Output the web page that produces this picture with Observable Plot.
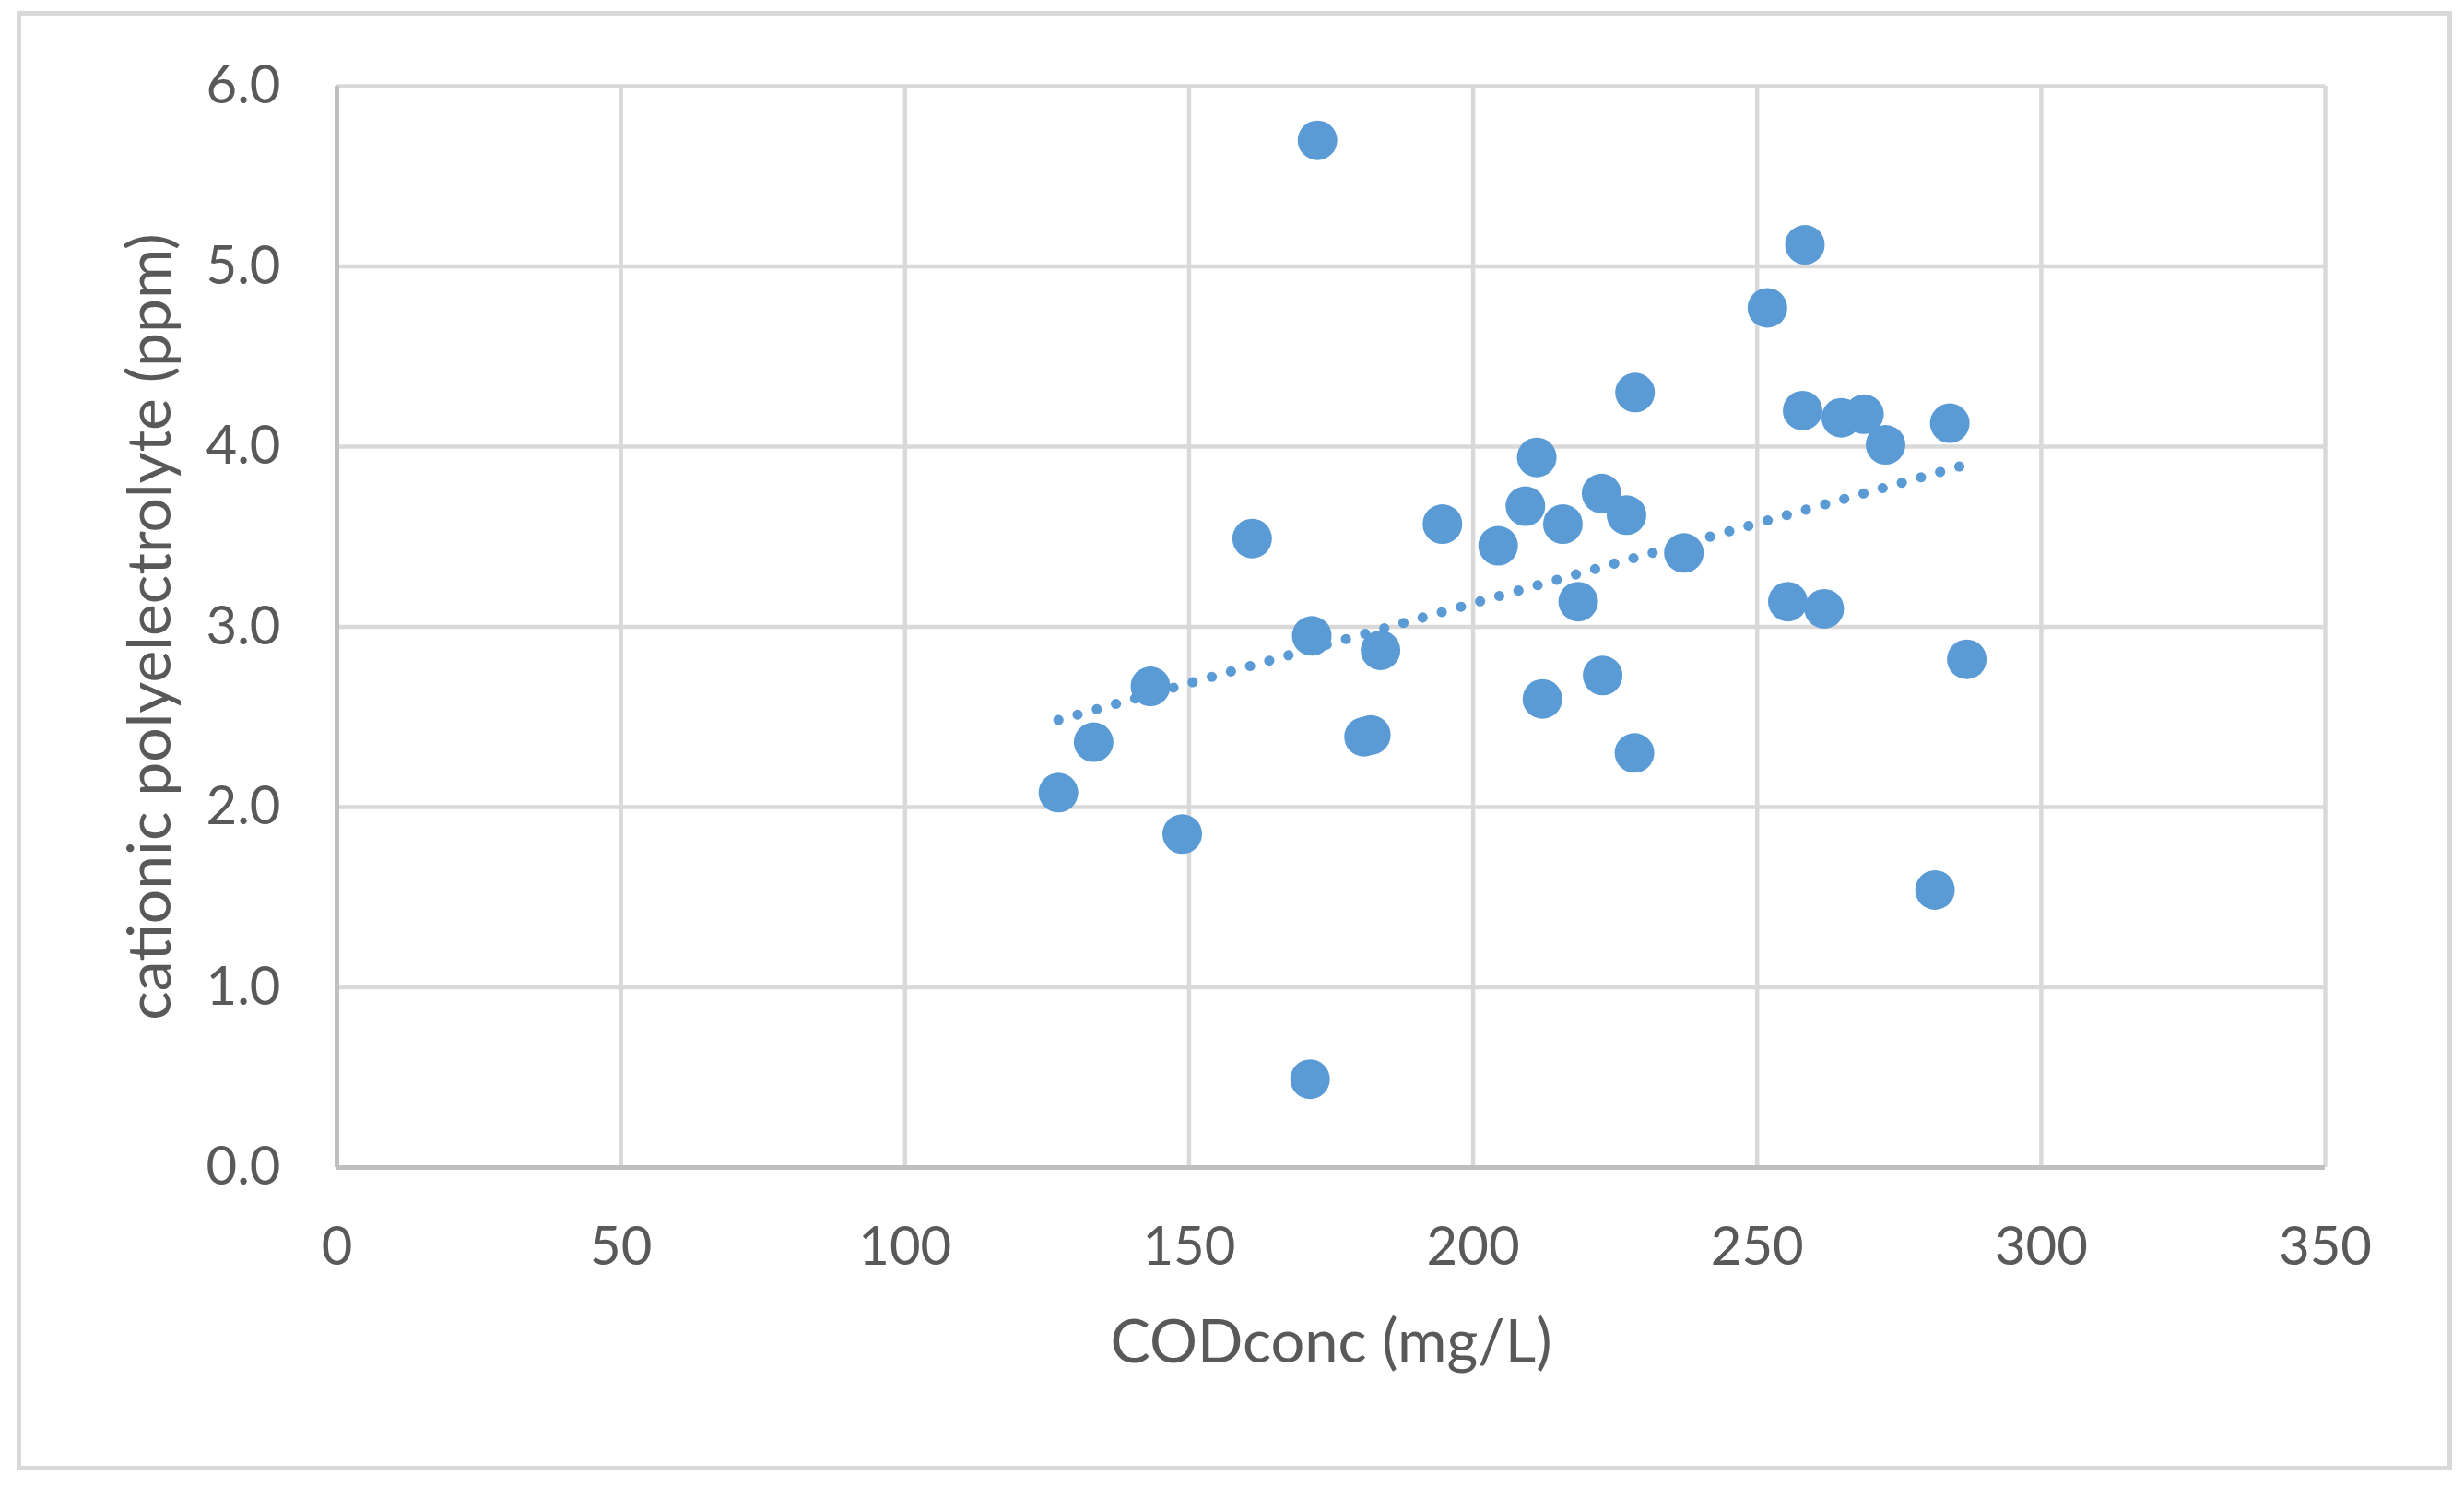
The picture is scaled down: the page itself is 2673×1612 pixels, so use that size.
<!DOCTYPE html>
<html>
<head>
<meta charset="utf-8">
<script src="https://cdn.jsdelivr.net/npm/d3@7"></script>
<script src="https://cdn.jsdelivr.net/npm/@observablehq/plot@0.6"></script>
<style>
  html, body { margin: 0; padding: 0; background: #ffffff; }
  #wrap { position: relative; width: 2673px; height: 1612px; background: #ffffff; }
  #chart { position: absolute; left: 0; top: 0; }
  #border { position: absolute; left: 17.5px; top: 11.5px; width: 2642px; height: 1583px;
            box-sizing: border-box; border: 5px solid #d9d9d9; background: transparent; pointer-events: none; }
</style>
</head>
<body>
<div id="wrap"><div id="chart"></div><div id="border"></div></div>
<script>
// Data
const codConc = [127.0, 133.2, 143.2, 148.8, 161.1, 171.6, 172.6, 171.3, 180.8, 182.0,
                 183.7, 194.6, 204.4, 209.2, 211.2, 212.2, 215.8, 218.5, 222.6, 222.8,
                 227.0, 228.5, 228.4, 237.1, 251.8, 255.4, 258.0, 258.4, 261.8, 264.8,
                 268.8, 272.6, 281.3, 283.9, 286.9];
const polyelectrolyte = [2.08, 2.36, 2.67, 1.85, 3.49, 2.95, 5.70, 0.49, 2.39, 2.40,
                         2.87, 3.57, 3.45, 3.67, 3.94, 2.60, 3.57, 3.14, 3.74, 2.73,
                         3.62, 4.30, 2.30, 3.41, 4.77, 3.14, 4.20, 5.12, 3.10, 4.16,
                         4.18, 4.01, 1.54, 4.13, 2.82];
const xTicks = [0, 50, 100, 150, 200, 250, 300, 350];
const yTicks = [0, 1, 2, 3, 4, 5, 6];
const xTitle = "CODconc (mg/L)";
const yTitle = "cationic polyelectrolyte (ppm)";

const data = codConc.map((x, i) => ({x, y: polyelectrolyte[i]}));

const blue = "#5b9bd5";
const textColor = "#595959";

const chart = Plot.plot({
  width: 2673,
  height: 1612,
  marginLeft: 365,
  marginRight: 151,
  marginTop: 93,
  marginBottom: 346,
  style: {fontFamily: "Lato, 'Open Sans', sans-serif", fontSize: "58px", color: textColor, background: "transparent"},
  x: {domain: [0, 350], ticks: xTicks, tickSize: 0, tickPadding: 64, tickFormat: d3.format("d"), label: null},
  y: {domain: [0, 6], ticks: yTicks, tickSize: 0, tickPadding: 61, tickFormat: d3.format(".1f"), label: null},
  marks: [
    Plot.ruleX(xTicks.filter(t => t !== 0), {stroke: "#d9d9d9", strokeWidth: 4.5}),
    Plot.ruleY(yTicks.filter(t => t !== 0), {stroke: "#d9d9d9", strokeWidth: 4.5}),
    Plot.ruleX([0], {stroke: "#bfbfbf", strokeWidth: 5}),
    Plot.ruleY([0], {stroke: "#bfbfbf", strokeWidth: 5}),
    Plot.dot(data, {x: "x", y: "y", r: 21.5, fill: blue, stroke: null}),
    Plot.linearRegressionY(data, {x: "x", y: "y", ci: 0, stroke: blue, strokeWidth: 11,
      strokeDasharray: "0.1 21.5", strokeLinecap: "round"}),
    Plot.text([xTitle], {text: d => d, frameAnchor: "bottom", dy: 191, fontSize: 65, fill: textColor,
      textAnchor: "middle", lineAnchor: "middle"}),
    Plot.text([yTitle], {text: d => d, frameAnchor: "left", rotate: -90, dx: -202, fontSize: 66, fill: textColor,
      textAnchor: "middle", lineAnchor: "middle"})
  ]
});
document.getElementById("chart").appendChild(chart);
</script>
</body>
</html>
